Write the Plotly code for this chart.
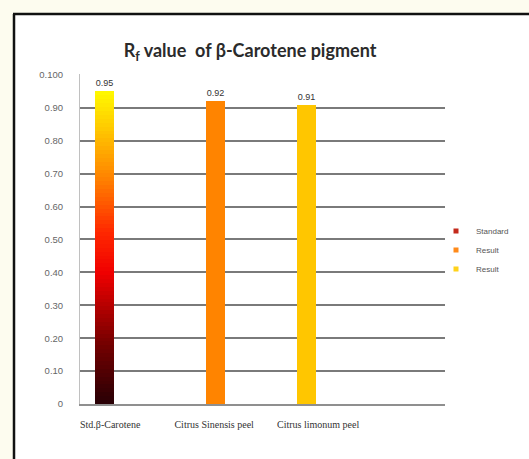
import plotly.graph_objects as go

categories = ["Std.β-Carotene", "Citrus Sinensis peel", "Citrus limonum peel"]
series_names = ["Standard", "Result", "Result"]
series_colors = ["#c42a1c", "#ff8a1a", "#ffd21a"]
values = [0.95, 0.92, 0.91]
tick_values = [0, 0.1, 0.2, 0.3, 0.4, 0.5, 0.6, 0.7, 0.8, 0.9, 1.0]
tick_labels = ["0", "0.10", "0.20", "0.30", "0.40", "0.50", "0.60", "0.70", "0.80", "0.90", "0.100"]
title_text = "R<sub>f</sub> value  of β-Carotene pigment"

W, H = 529, 459
L, R, T, B = 80, 84, 74, 55
PW, PH = W - L - R, H - T - B

# gradient stops for the standard bar (bottom -> top)
grad = [(0.0, (40, 0, 5)), (0.2, (120, 0, 0)), (0.42, (240, 0, 0)),
        (0.55, (255, 40, 0)), (0.72, (255, 130, 0)), (0.88, (255, 200, 0)), (1.0, (255, 250, 0))]

def gcol(f):
    for (a, ca), (b, cb) in zip(grad[:-1], grad[1:]):
        if a <= f <= b:
            t = (f - a) / (b - a) if b > a else 0
            c = [round(ca[i] + (cb[i] - ca[i]) * t) for i in range(3)]
            return f"rgb({c[0]},{c[1]},{c[2]})"
    return "rgb(255,250,0)"

N = 80
seg_y = [values[0] * (N - k) / N for k in range(N)]
seg_c = [gcol((N - k - 0.5) / N) for k in range(N)]
seg_t = [f"{values[0]:.2f}"] + [""] * (N - 1)

label_font = dict(size=9, color="#333", family="Liberation Sans")
fig = go.Figure()
bw = 0.18
fig.add_trace(go.Bar(x=[categories[0]] * N, y=seg_y, marker=dict(color=seg_c, line=dict(width=0)),
                     width=bw, offset=-0.145, showlegend=False, text=seg_t,
                     textposition="outside", cliponaxis=False, textfont=label_font))
fig.add_trace(go.Bar(x=[categories[1]], y=[values[1]], showlegend=False,
                     marker=dict(color="#ff8400", line=dict(width=0)), width=bw, offset=-0.08,
                     text=[f"{values[1]:.2f}"], textposition="outside", cliponaxis=False,
                     textfont=label_font))
fig.add_trace(go.Bar(x=[categories[2]], y=[values[2]], showlegend=False,
                     marker=dict(color="#ffc600", line=dict(width=0)), width=bw, offset=-0.205,
                     text=[f"{values[2]:.2f}"], textposition="outside", cliponaxis=False,
                     textfont=label_font))
# legend entries
for name, col in zip(series_names, series_colors):
    fig.add_trace(go.Scatter(x=[None], y=[None], mode="markers", name=name,
                             marker=dict(symbol="square", size=5, color=col)))

def px_x(p):
    return (p - L) / PW

def px_y(p):
    return (H - B - p) / PH

# white panel inside a frame drawn on its left and top sides
fig.add_shape(type="rect", xref="paper", yref="paper", layer="below",
              x0=px_x(14), x1=px_x(W + 10), y0=px_y(H + 10), y1=px_y(14),
              fillcolor="white", line=dict(width=0))
fig.add_shape(type="line", xref="paper", yref="paper", layer="below",
              x0=px_x(14), x1=px_x(14), y0=px_y(H + 10), y1=px_y(14),
              line=dict(color="#111", width=2.5))
fig.add_shape(type="line", xref="paper", yref="paper", layer="below",
              x0=px_x(13), x1=px_x(W + 10), y0=px_y(14), y1=px_y(14),
              line=dict(color="#111", width=2.5))

fig.update_layout(
    width=W, height=H, margin=dict(l=L, r=R, t=T, b=B, autoexpand=False),
    paper_bgcolor="#fdfcef", plot_bgcolor="rgba(0,0,0,0)",
    barmode="overlay", bargap=0,
    title=dict(text=title_text, x=250 / W, xanchor="center", y=1 - 51 / H, yanchor="middle",
               font=dict(family="Lato", size=18, color="#2b2b2b", weight="bold")),
    xaxis=dict(type="category", range=[-0.29, 3.22], showgrid=False, showline=True,
               linecolor="#8f8f8f", linewidth=1.5, ticks="", ticklabelstandoff=10,
               automargin=False,
               tickfont=dict(family="Liberation Serif", size=10, color="#333")),
    yaxis=dict(range=[0, 1.003], tickvals=tick_values, ticktext=tick_labels,
               showgrid=True, gridcolor="#7a7a7a", gridwidth=1.6, showline=True,
               linecolor="#c0c0c0", linewidth=1, ticks="", ticklabelstandoff=14,
               zeroline=False, automargin=False,
               tickfont=dict(family="Liberation Sans", size=9.5, color="#666")),
    legend=dict(x=px_x(436), y=px_y(250), xanchor="left", yanchor="middle",
                bgcolor="rgba(0,0,0,0)", font=dict(size=8, color="#555", family="Liberation Sans"),
                itemwidth=30, tracegroupgap=0),
    showlegend=True,
)

fig.write_html("out.html", config={"displayModeBar": False},
               post_script="document.body.style.margin='0';document.body.style.overflow='hidden';")
